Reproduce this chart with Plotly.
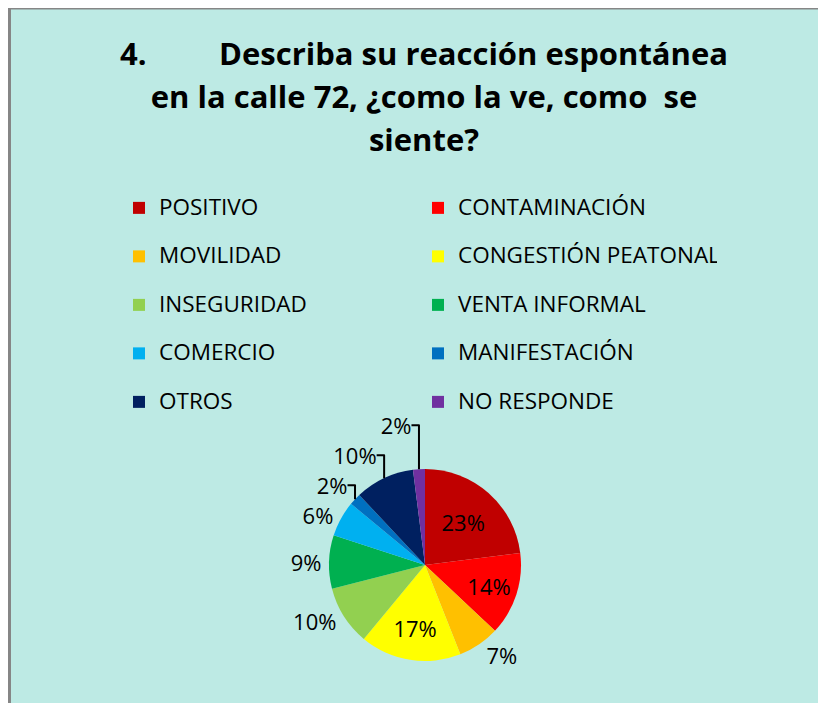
import plotly.graph_objects as go

categorias = ["POSITIVO", "CONTAMINACIÓN", "MOVILIDAD", "CONGESTIÓN PEATONAL",
              "INSEGURIDAD", "VENTA INFORMAL", "COMERCIO", "MANIFESTACIÓN",
              "OTROS", "NO RESPONDE"]
porcentajes = [23, 14, 7, 17, 10, 9, 6, 2, 10, 2]
colores = ["#C00000", "#FF0000", "#FFC000", "#FFFF00", "#92D050",
           "#00B050", "#00B0F0", "#0070C0", "#002060", "#7030A0"]
posicion_texto = ["inside", "inside", "outside", "inside", "outside",
                  "outside", "outside", "outside", "outside", "outside"]

# the page body has an 8px margin, so the figure is 8px smaller than the window
W, H = 818, 695
OFF = 8
fuente = "'Open Sans', sans-serif"


def px_x(x):
    return (x - OFF) / W


def px_y(y):
    return 1 - (y - OFF) / H


# bigger text inside a smaller legend font keeps the rows ~48px apart
nombres = ["<span style='font-size:22.5px'>" + c + "</span><br> " for c in categorias]

titulo = ("4.\u00a0\u00a0\u00a0\u00a0\u00a0\u00a0\u00a0\u00a0\u00a0Describa su reacción espontánea<br>"
          "en la calle 72, ¿como la ve, como\u00a0\u00a0se<br>siente?")
lineas = ["<span style='font-size:31px'><b>" + t + "</b></span>" for t in titulo.split("<br>")]

fig = go.Figure(go.Pie(
    labels=nombres,
    values=porcentajes,
    marker=dict(colors=colores),
    sort=False,
    direction="clockwise",
    rotation=0,
    textinfo="percent",
    texttemplate="%{value}%",
    textposition=posicion_texto,
    insidetextorientation="horizontal",
    textfont=dict(size=22, color="black", family=fuente),
    hoverinfo="skip",
    domain=dict(x=[px_x(329), px_x(521)], y=[px_y(661), px_y(469)]),
))

fig.update_layout(
    width=W, height=H,
    margin=dict(l=0, r=0, t=0, b=0),
    paper_bgcolor="white",
    font=dict(family=fuente, color="black"),
    title=dict(
        text="<br>".join(lineas),
        x=px_x(424), xanchor="center",
        y=px_y(65), yanchor="top",
        font=dict(size=33, family=fuente, color="black"),
    ),
    legend=dict(
        orientation="h",
        x=px_x(119), xanchor="left",
        y=px_y(190), yanchor="top",
        entrywidth=254, entrywidthmode="pixels",
        valign="top",
        font=dict(size=17.5, family=fuente, color="black"),
        bgcolor="rgba(0,0,0,0)",
    ),
    shapes=[dict(
        type="rect", xref="paper", yref="paper", layer="below",
        x0=px_x(9.5), x1=1.02, y0=-0.02, y1=px_y(8),
        fillcolor="#BDEAE4", line=dict(color="#868686", width=3),
    )],
)

fig.write_html("out.html")
